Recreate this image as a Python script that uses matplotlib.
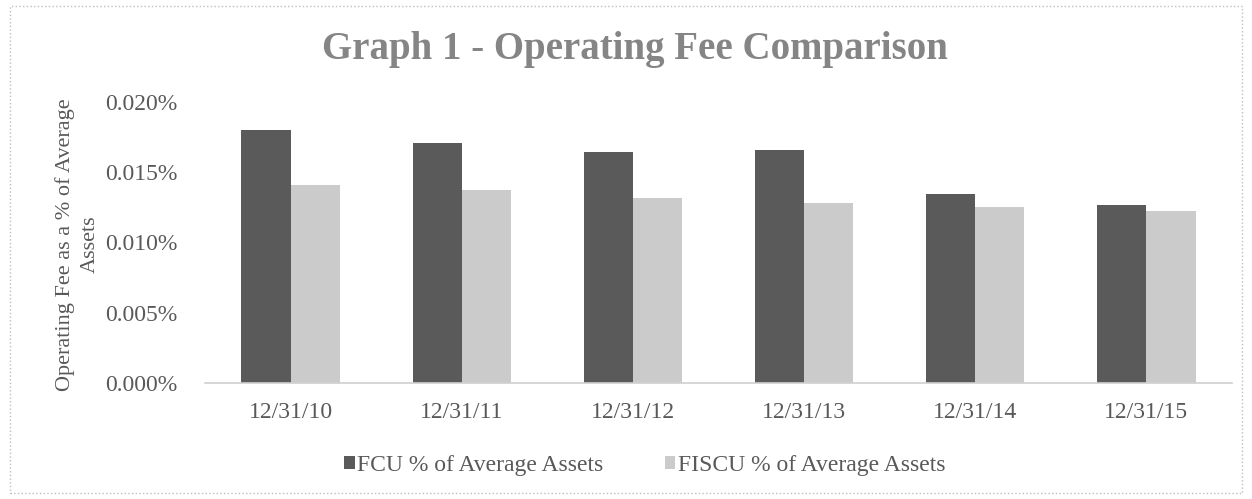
import matplotlib
matplotlib.use("Agg")
import matplotlib.pyplot as plt
from matplotlib.patches import Rectangle
from matplotlib.ticker import FuncFormatter
import numpy as np

dates = ["12/31/10", "12/31/11", "12/31/12", "12/31/13", "12/31/14", "12/31/15"]
fcu = [0.01800, 0.01708, 0.01646, 0.01658, 0.01345, 0.01267]
fiscu = [0.01409, 0.01374, 0.01319, 0.01283, 0.01255, 0.01224]

plt.rcParams["font.family"] = ["Liberation Serif", "DejaVu Serif"]

fig = plt.figure(figsize=(12.52, 4.99), dpi=100)
ax = fig.add_axes([0.1637, 0.2325, 0.8203, 0.5631])

x = np.arange(len(dates))
w = 0.287
ax.bar(x - w / 2, fcu, width=w, color="#5a5a5a", label="FCU % of Average Assets")
ax.bar(x + w / 2, fiscu, width=w, color="#cbcbcb", label="FISCU % of Average Assets")

ax.set_xlim(-0.5, len(dates) - 0.5)
ax.set_ylim(0, 0.020)
ax.set_yticks([0, 0.005, 0.010, 0.015, 0.020])
ax.yaxis.set_major_formatter(FuncFormatter(lambda v, _: f"{v:.3f}%"))
ax.set_xticks(x)
ax.set_xticklabels(dates)
ax.tick_params(axis="both", length=0, labelsize=17, colors="#595959")
ax.tick_params(axis="x", pad=14)
ax.tick_params(axis="y", pad=20)

for side in ["top", "right", "left"]:
    ax.spines[side].set_visible(False)
ax.spines["bottom"].set_color("#d0d0d0")
ax.spines["bottom"].set_linewidth(1.2)

# two-line axis title, each line placed like the original
fig.text(0.052, 0.51, "Operating Fee as a % of Average", rotation=90,
         ha="center", va="center", fontsize=16, color="#595959")
fig.text(0.072, 0.51, "Assets", rotation=90,
         ha="center", va="center", fontsize=16, color="#595959")

fig.text(0.507, 0.9, "Graph 1 - Operating Fee Comparison", ha="center",
         va="center", fontsize=28, fontweight="bold", color="#858585")

leg = fig.legend(loc="center", bbox_to_anchor=(0.515, 0.068), ncol=2,
                 frameon=False, fontsize=17, handlelength=0.45,
                 handleheight=0.45, handletextpad=0.1, columnspacing=2.6)
for t in leg.get_texts():
    t.set_color("#595959")

fig.patches.append(Rectangle((0.008, 0.012), 0.984, 0.976, transform=fig.transFigure,
                             fill=False, edgecolor="#bdbdbd", linewidth=1,
                             linestyle=":"))

fig.savefig("out.png", dpi=100)
